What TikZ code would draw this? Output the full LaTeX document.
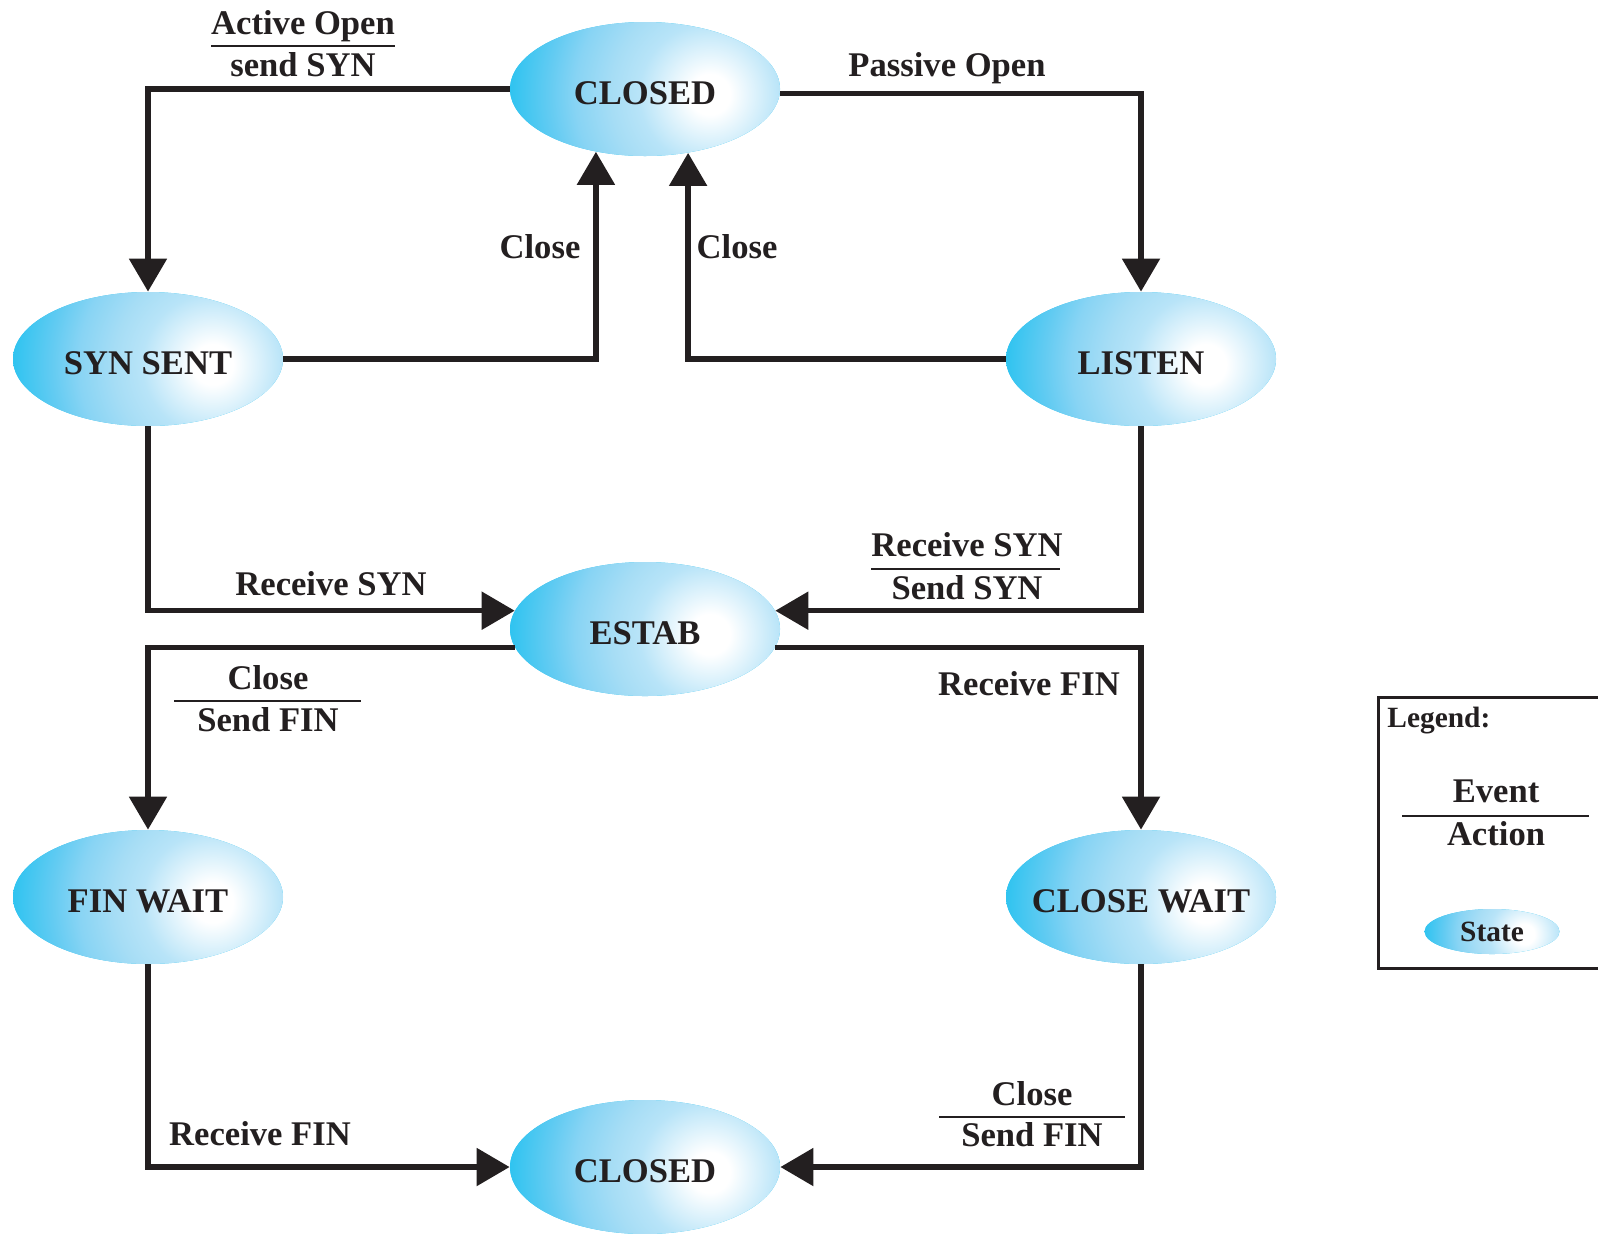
\documentclass[tikz,border=0pt]{standalone}
\usepackage{fontspec}
\setmainfont{Liberation Serif}
\usetikzlibrary{shapes.geometric,arrows.meta}

\definecolor{ink}{HTML}{231F20}
\definecolor{skyedge}{HTML}{2CC3F0}
\definecolor{skyA}{HTML}{62CBF2}
\definecolor{skyB}{HTML}{88D4F4}
\definecolor{skyC}{HTML}{A6DDF5}
\definecolor{skyD}{HTML}{B8E4F8}

% concentric radial fill; placed on a square so that it stays circular
\pgfdeclareradialshading{spotfill}{\pgfpointorigin}{%
  color(0bp)=(white); color(2.5bp)=(white); color(8.75bp)=(skyD);
  color(12.25bp)=(skyC); color(16.6bp)=(skyB); color(20bp)=(skyA);
  color(25bp)=(skyedge); color(50bp)=(skyedge)}

\newcommand{\statefont}{\fontsize{17.3pt}{20pt}\selectfont\bfseries}
\newcommand{\smallbold}{\fontsize{14.7pt}{17pt}\selectfont\bfseries}

\tikzset{
  % #1 = half width of the ellipse; bright spot right of centre
  spotlight/.style={path picture={
    \shade[shading=spotfill]
      ([xshift={-1.02*#1}, yshift={-1.54*#1}]path picture bounding box.center)
      rectangle
      ([xshift={1.98*#1}, yshift={1.46*#1}]path picture bounding box.center);}},
  state/.style={ellipse, fill=skyedge, spotlight=67.5pt, minimum width=135pt,
    minimum height=67pt, inner sep=0pt, font=\statefont, text=ink,
    text height=15.4pt, text depth=0pt},
  smallstate/.style={ellipse, fill=skyedge, spotlight=33.75pt,
    minimum width=67.5pt, minimum height=22.5pt, inner sep=0pt,
    font=\smallbold, text=ink, text height=9.7pt, text depth=0pt},
  conn/.style={draw=ink, line width=2.7pt,
    -{Triangle[length=16.5pt,width=18.5pt]}},
  lbl/.style={font=\statefont, text=ink, anchor=base, inner sep=0pt},
  bar/.style={draw=ink, line width=1.3pt},
}

\begin{document}
\begin{tikzpicture}[x=0.5pt, y=-0.5pt]
  \useasboundingbox (0,0) rectangle (1598,1233);
  \clip (0,0) rectangle (1598,1233);

  % states
  \node[state] (closedtop) at (645,89)   {CLOSED};
  \node[state] (synsent)   at (148,359)  {SYN SENT};
  \node[state] (listen)    at (1141,359) {LISTEN};
  \node[state] (estab)     at (645,629)  {ESTAB};
  \node[state] (finwait)   at (148,897)  {FIN WAIT};
  \node[state] (closewait) at (1141,897) {\makebox[0pt]{CLOSE WAIT}};
  \node[state] (closedbot) at (645,1167) {CLOSED};

  % transitions
  \draw[conn] (closedtop.west) -| (synsent.north);
  \draw[conn] (closedtop.358) -| (listen.north);
  \draw[conn] (synsent.east) -| (closedtop.232);
  \draw[conn] (listen.west) -| (closedtop.304);
  \draw[conn] (synsent.south) |- (estab.172);
  \draw[conn] (listen.south) |- (estab.8);
  \draw[conn] (estab.188) -| (finwait.north);
  \draw[conn] (estab.352) -| (closewait.north);
  \draw[conn] (finwait.south) |- (closedbot.west);
  \draw[conn] (closewait.south) |- (closedbot.east);

  % transition labels
  \node[lbl] (aoev) at (303,34)   {Active Open};
  \draw[bar] (211,46) -- (395,46);
  \node[lbl] (aoac) at (303,76.5) {send SYN};

  \node[lbl] (po) at (947,76) {Passive Open};

  \node[lbl] (clsl) at (540,258) {Close};
  \node[lbl] (clsr) at (737,258) {Close};

  \node[lbl] (rsyn) at (331,595) {Receive SYN};

  \node[lbl] (rsev) at (967,556.5) {Receive SYN};
  \draw[bar] (871,569) -- (1060,569);
  \node[lbl] (rsac) at (967,599) {Send SYN};

  \node[lbl] (cfev) at (268,689) {Close};
  \draw[bar] (174,701) -- (361,701);
  \node[lbl] (cfac) at (268,731) {Send FIN};

  \node[lbl] (rfin) at (1029,695) {Receive FIN};

  \node[lbl] (rfinb) at (260,1145.5) {Receive FIN};

  \node[lbl] (cbev) at (1032,1105) {Close};
  \draw[bar] (939,1117) -- (1125,1117);
  \node[lbl] (cbac) at (1032,1146.5) {Send FIN};

  % legend
  \draw[ink, line width=1.5pt] (1378,697) rectangle (1620,968);
  \node[lbl, font=\smallbold, anchor=base west] (leg) at (1387,727) {Legend:};
  \node[lbl] (legev) at (1496,802) {Event};
  \draw[bar] (1402,816) -- (1589,816);
  \node[lbl] (legac) at (1496,845) {Action};
  \node[smallstate] (legst) at (1492,931.5) {State};
\end{tikzpicture}
\end{document}
